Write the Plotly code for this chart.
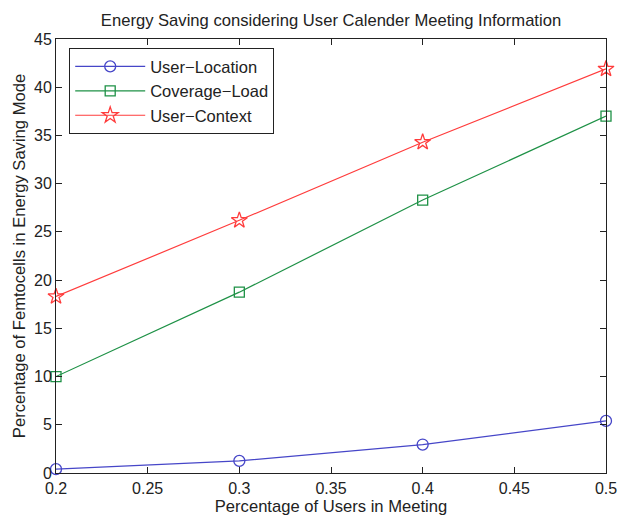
import plotly.graph_objects as go

x_vals = [0.2, 0.3, 0.4, 0.5]
x_ticks = [0.2, 0.25, 0.3, 0.35, 0.4, 0.45, 0.5]
x_ticktext = ["0.2", "0.25", "0.3", "0.35", "0.4", "0.45", "0.5"]
y_ticks = [0, 5, 10, 15, 20, 25, 30, 35, 40, 45]
user_location = [0.4, 1.25, 2.95, 5.4]
coverage_load = [10.0, 18.75, 28.3, 37.0]
user_context = [18.3, 26.2, 34.3, 41.9]

series = [
    ("User\u2212Location", user_location, "rgb(70,70,200)", "circle-open", 11),
    ("Coverage\u2212Load", coverage_load, "rgb(30,145,70)", "square-open", 10),
    ("User\u2212Context", user_context, "rgb(255,60,60)", "star-open", 12),
]

fig = go.Figure()
for name, vals, color, sym, sz in series:
    fig.add_trace(go.Scatter(
        x=x_vals, y=vals, name=name, mode="lines+markers",
        line=dict(color=color, width=1.2),
        marker=dict(symbol=sym, size=sz, color=color, line=dict(width=1.3, color=color)),
        cliponaxis=False,
    ))

font = "Liberation Sans, Arial, sans-serif"
fig.update_layout(
    width=618, height=518,
    margin=dict(l=56, r=12, t=39, b=45, autoexpand=False),
    paper_bgcolor="white", plot_bgcolor="white",
    font=dict(family=font, color="#222", size=16),
    title=dict(text="Energy Saving considering User Calender Meeting Information",
               x=(56 + 606) / 2 / 618, xanchor="center", y=1 - 20 / 518, yanchor="middle",
               font=dict(size=16.6, family=font, color="#222")),
    legend=dict(x=0.024, y=0.979, xanchor="left", yanchor="top",
                bordercolor="#222", borderwidth=1, bgcolor="white",
                font=dict(size=16.5, family=font), tracegroupgap=0, itemwidth=70),
    showlegend=True,
)
fig.update_xaxes(range=[0.2, 0.5], tickvals=x_ticks, ticktext=x_ticktext,
                 ticks="inside", ticklen=6, tickcolor="#222", mirror="ticks",
                 showline=True, linecolor="#222", linewidth=1, showgrid=False, zeroline=False,
                 automargin=False, ticklabelstandoff=1,
                 title=dict(text="Percentage of Users in Meeting", font=dict(size=16.6), standoff=2),
                 tickfont=dict(size=16))
fig.update_yaxes(range=[0, 45], tickvals=y_ticks,
                 ticks="inside", ticklen=6, tickcolor="#222", mirror="ticks",
                 showline=True, linecolor="#222", linewidth=1, showgrid=False, zeroline=False,
                 automargin=False,
                 title=dict(text="Percentage of Femtocells in Energy Saving Mode", font=dict(size=16.6), standoff=4),
                 tickfont=dict(size=16))

fig.write_html("out.html")
